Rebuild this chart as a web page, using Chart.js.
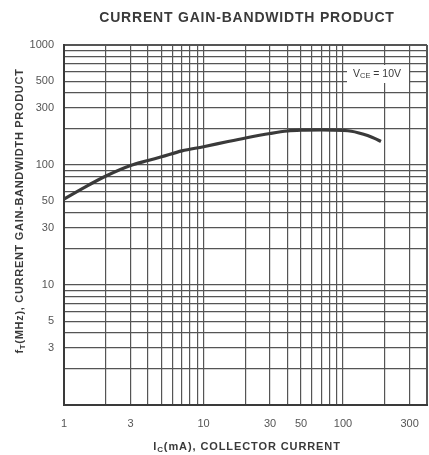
<!DOCTYPE html>
<html>
<head>
<meta charset="utf-8">
<script src="https://cdn.jsdelivr.net/npm/chart.js@4/dist/chart.umd.min.js"></script>
<style>
  html, body { margin: 0; padding: 0; background: #fff; }
  #wrap { width: 429px; height: 455px; position: relative; }
  canvas { display: block; }
</style>
</head>
<body>
<div id="wrap"><canvas id="c" width="429" height="455"></canvas></div>
<script>
// Collector current (mA) and transition frequency fT (MHz), VCE = 10 V
const currentMA = [1, 1.5, 2, 3, 4, 5, 7, 10, 15, 20, 30, 40, 50, 70, 100, 115, 130, 150, 170, 187];
const ftMHz     = [52, 68, 81, 99, 109, 117, 131, 142, 157, 168, 183, 192, 195, 196, 194, 191, 185, 176, 166, 157];

// Labelled ticks on the log axes
const xTickLabels = [1, 3, 10, 30, 50, 100, 300];
const yTickLabels = [3, 5, 10, 30, 50, 100, 300, 500, 1000];
const xRange = [1, 400];
const yRange = [1, 1000];

const INK = '#3a3a3a';
const GRID = '#555555';
const FONT = '"Liberation Sans", Arial, Helvetica, sans-serif';

// All 1..9 x 10^n grid values inside [min, max]
function logGrid(min, max) {
  const out = [];
  for (let d = 1; d < max; d *= 10) {
    for (let m = 1; m < 10; m++) {
      const v = m * d;
      if (v >= min && v <= max) out.push(v);
    }
  }
  if (!out.includes(max)) out.push(max);
  return out;
}

// Draws centred text made of runs, some lowered as subscripts
function drawRuns(ctx, runs, x, y, spacing) {
  ctx.letterSpacing = (spacing || 0) + 'px';
  let total = 0;
  runs.forEach(r => { ctx.font = r.font; total += ctx.measureText(r.text).width; });
  let cx = x - total / 2;
  ctx.textAlign = 'left';
  runs.forEach(r => {
    ctx.font = r.font;
    ctx.fillText(r.text, cx, y + (r.dy || 0));
    cx += ctx.measureText(r.text).width;
  });
  ctx.letterSpacing = '0px';
}

const textLayer = {
  id: 'textLayer',
  afterDraw(chart) {
    const ctx = chart.ctx;
    const base = 'bold 11px ' + FONT;
    const sub = 'bold 8px ' + FONT;
    ctx.save();
    ctx.fillStyle = INK;
    ctx.textBaseline = 'middle';

    // chart title
    drawRuns(ctx, [{ text: 'CURRENT GAIN-BANDWIDTH PRODUCT', font: 'bold 14px ' + FONT }], 247, 18, 0.8);

    // x axis title
    drawRuns(ctx, [
      { text: 'I', font: base },
      { text: 'C', font: sub, dy: 3 },
      { text: '(mA), COLLECTOR CURRENT', font: base }
    ], 247, 447, 0.9);

    // y axis title
    ctx.save();
    ctx.translate(20, 211);
    ctx.rotate(-Math.PI / 2);
    drawRuns(ctx, [
      { text: 'f', font: base },
      { text: 'T', font: sub, dy: 3 },
      { text: '(MHz), CURRENT GAIN-BANDWIDTH PRODUCT', font: base }
    ], 0, 0, 0.7);
    ctx.restore();

    // test condition box
    ctx.fillStyle = '#fff';
    ctx.fillRect(347, 65, 62, 18);
    ctx.fillStyle = INK;
    drawRuns(ctx, [
      { text: 'V', font: '10.5px ' + FONT },
      { text: 'CE', font: '7.5px ' + FONT, dy: 2 },
      { text: ' = 10V', font: '10.5px ' + FONT }
    ], 377, 74, 0);
    ctx.restore();
  }
};

const edgeWidth = (min, max) => (c) => {
  const v = c.tick && c.tick.value;
  return (v === min || v === max) ? 2 : 1.2;
};

new Chart(document.getElementById('c'), {
  type: 'line',
  data: {
    datasets: [{
      data: currentMA.map((x, i) => ({ x, y: ftMHz[i] })),
      borderColor: INK,
      borderWidth: 3.2,
      pointRadius: 0,
      fill: false,
      cubicInterpolationMode: 'monotone'
    }]
  },
  options: {
    responsive: false,
    animation: false,
    devicePixelRatio: 1,
    layout: { padding: { top: 45, right: 2, left: 0, bottom: 0 } },
    plugins: { legend: { display: false }, title: { display: false }, tooltip: { enabled: false } },
    scales: {
      x: {
        type: 'logarithmic',
        min: xRange[0], max: xRange[1],
        afterBuildTicks: s => { s.ticks = logGrid(xRange[0], xRange[1]).map(v => ({ value: v })); },
        afterFit: s => { s.height = 50; s.paddingLeft = 0; s.paddingRight = 0; },
        ticks: {
          autoSkip: false, maxRotation: 0, padding: 12,
          color: '#555', font: { family: FONT, size: 11 },
          callback: v => xTickLabels.includes(v) ? String(v) : ''
        },
        grid: { color: GRID, lineWidth: edgeWidth(xRange[0], xRange[1]), drawTicks: false },
        border: { display: true, color: INK, width: 2 }
      },
      y: {
        type: 'logarithmic',
        min: yRange[0], max: yRange[1],
        afterBuildTicks: s => { s.ticks = logGrid(yRange[0], yRange[1]).map(v => ({ value: v })); },
        afterFit: s => { s.width = 64; s.paddingTop = 0; s.paddingBottom = 0; },
        ticks: {
          autoSkip: false, padding: 10,
          color: '#555', font: { family: FONT, size: 11 },
          callback: v => yTickLabels.includes(v) ? String(v) : ''
        },
        grid: { color: GRID, lineWidth: edgeWidth(yRange[0], yRange[1]), drawTicks: false },
        border: { display: true, color: INK, width: 2 }
      }
    }
  },
  plugins: [textLayer]
});
</script>
</body>
</html>
